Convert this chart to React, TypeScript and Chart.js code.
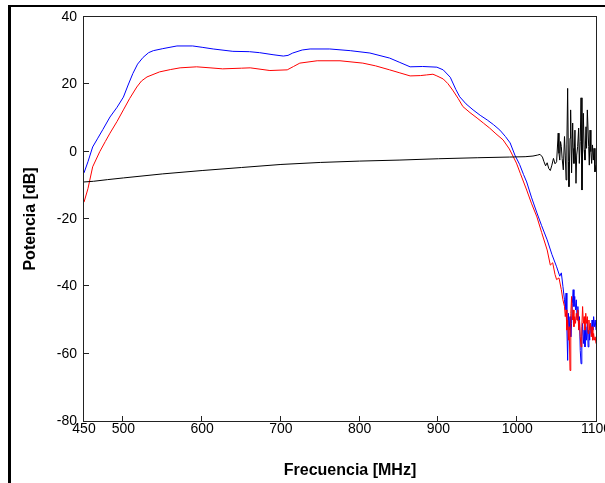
import React, { useEffect, useRef } from "react";
import { Chart, registerables } from "chart.js";

Chart.register(...registerables);

// ---- Data ----
const blueFreq = [
  450, 455, 461, 467, 474, 483, 492, 500, 506, 512, 518, 525, 532, 538, 550, 568, 588, 600, 614, 639,
  660, 673, 690, 703, 709, 715, 727, 737, 762, 788, 813, 838, 851, 864, 880, 898, 906, 915, 922, 927,
  935, 944, 953, 962, 970, 978, 985, 991, 997, 1003, 1008, 1012, 1018, 1025, 1031, 1038, 1044, 1050,
  1054, 1056, 1058, 1060, 1061, 1062, 1063, 1064, 1065, 1066, 1067, 1068, 1069, 1070, 1071, 1072,
  1073, 1074, 1075, 1076, 1077, 1078, 1079, 1080, 1081, 1082, 1083, 1084, 1085, 1086, 1087, 1088,
  1089, 1090, 1091, 1092, 1093, 1094, 1095, 1096, 1097, 1098, 1099, 1100,
];
const blueDb = [
  -6.3, -3.0, 1.4, 3.8, 6.6, 10.3, 13.2, 16.2, 19.8, 23.2, 26.0, 28.0, 29.4, 30.0, 30.6, 31.4, 31.4, 31.0, 30.5, 29.8,
  29.7, 29.4, 28.8, 28.4, 28.6, 29.3, 30.2, 30.5, 30.5, 30.0, 29.3, 27.8, 26.5, 25.2, 25.3, 25.1, 24.3, 22.1, 18.5, 16.3,
  14.2, 12.4, 10.8, 9.4, 8.0, 6.4, 4.5, 2.6, -1.0, -3.8, -6.8, -9.0, -13.5, -18.2, -22.0, -26.2, -30.5, -34.2,
  -37.0, -36.0, -40, -44, -47, -42, -52, -62, -48, -53, -49, -55, -51, -45, -41, -46,
  -43, -47, -44, -50, -46, -52, -49, -59, -63, -55, -51, -57, -53, -58, -52, -56,
  -50, -58, -53, -56, -51, -54, -50, -53, -49, -52, -50, -53,
];

const redFreq = [
  450, 455, 461, 470, 477, 483, 492, 500, 508, 517, 523, 530, 546, 560, 572, 593, 610, 626, 650, 661,
  686, 708, 716, 724, 746, 775, 804, 820, 838, 851, 864, 877, 885, 893, 898, 906, 912, 918, 925, 931,
  940, 949, 957, 965, 973, 982, 990, 995, 999, 1004, 1012, 1018, 1025, 1031, 1038, 1042, 1045, 1048,
  1050, 1053, 1056, 1058, 1060, 1061, 1062, 1063, 1064, 1065, 1066, 1067, 1068, 1069, 1070, 1071,
  1072, 1073, 1074, 1075, 1076, 1077, 1078, 1079, 1080, 1081, 1082, 1083, 1084, 1085, 1086, 1087,
  1088, 1089, 1090, 1091, 1092, 1093, 1094, 1095, 1096, 1097, 1098, 1099, 1100,
];
const redDb = [
  -15.0, -11.0, -4.5, 0.0, 3.0, 5.5, 9.0, 12.4, 15.8, 19.2, 21.0, 22.2, 23.7, 24.4, 24.9, 25.2, 24.9, 24.6, 24.8, 24.9,
  24.1, 24.3, 25.3, 26.3, 27.0, 27.0, 26.3, 25.5, 24.3, 23.4, 22.5, 22.6, 22.8, 23.0, 22.5, 21.6, 20.2, 18.3, 15.8, 13.4,
  11.6, 10.0, 8.5, 7.0, 5.3, 3.5, 0.8, -1.5, -3.4, -6.5, -11.4, -15.3, -19.4, -24.0, -29.2, -33.7, -33.0, -36.5,
  -38.0, -37.5, -41, -44, -46, -49, -47, -53, -50, -56, -52, -65, -48, -43, -50, -47,
  -52, -49, -51, -48, -50, -47, -53, -50, -55, -58, -52, -46, -51, -49, -53, -48,
  -51, -49, -54, -50, -53, -51, -55, -52, -56, -54, -56, -55, -57,
];

const blackFreq = [
  450, 462, 480, 500, 550, 600, 650, 700, 750, 800, 850, 900, 950, 990, 1010, 1020, 1026, 1029, 1032, 1034,
  1036, 1038, 1040, 1042, 1044, 1046, 1048, 1050, 1052, 1053, 1054, 1055, 1056, 1057, 1058.5, 1060, 1061, 1062,
  1063, 1064, 1065, 1065.7, 1067, 1067.8, 1069, 1070.4, 1071, 1072, 1073.3, 1074.6, 1075.5, 1076.7, 1078,
  1078.8, 1080, 1081, 1082.2, 1083.1, 1083.9, 1085, 1086, 1087.3, 1088, 1089, 1090.7, 1091.5, 1092.4, 1093.5,
  1094.5, 1095.5, 1096.6, 1097.5, 1098.7, 1100,
];
const blackDb = [
  -9.0, -8.8, -8.3, -7.8, -6.6, -5.6, -4.7, -3.8, -3.2, -2.8, -2.5, -2.1, -1.8, -1.6, -1.5, -1.3, -1.0, -0.8, -1.6, -3.0,
  -4.2, -3.3, -5.0, -5.6, -4.0, -2.0, -3.6, -3.0, 5.5, -0.5, -2.5, 3.0, 1.5, -2.0, -5.4, 4.5, -1.0, -8.4,
  2.0, 18.8, -3.0, -10.4, 4.0, 12.4, -6.3, 8.5, 1.0, -3.5, 6.4, -9.4, -1.0, 1.5, 7.0,
  -3.5, 3.0, 16.0, -11.4, 2.0, 11.4, 0.5, -2.5, 7.4, 1.0, 12.4, 1.5, -4.0, 6.4, 0.0,
  -3.5, 2.0, -2.5, 1.0, -6.0, -4.0,
];

const xTicks = [450, 500, 600, 700, 800, 900, 1000, 1100];
const yTicks = [-80, -60, -40, -20, 0, 20, 40];

const xTitle = "Frecuencia [MHz]";
const yTitle = "Potencia [dB]";

const FONT = "Arial, 'Liberation Sans', sans-serif";

const toPoints = (xs: number[], ys: number[]) => xs.map((x, i) => ({ x, y: ys[i] }));

const framePlugin = {
  id: "framePlugin",
  beforeDraw(chart: any) {
    const ctx = chart.ctx;
    ctx.save();
    ctx.fillStyle = "#000";
    ctx.fillRect(8, 5, 3, chart.height - 5);
    ctx.fillRect(8, 5, chart.width - 8, 2);
    ctx.restore();
  },
  afterDraw(chart: any) {
    const { ctx, chartArea: a, scales } = chart;
    ctx.save();
    ctx.strokeStyle = "#222";
    ctx.lineWidth = 1;
    ctx.strokeRect(Math.round(a.left) - 0.5, Math.round(a.top) - 0.5, Math.round(a.width) + 1, Math.round(a.height) + 1);
    ctx.beginPath();
    const tl = 5;
    xTicks.forEach((v) => {
      if (v === scales.x.min || v === scales.x.max) return;
      const px = Math.round(scales.x.getPixelForValue(v)) - 0.5;
      ctx.moveTo(px, a.bottom);
      ctx.lineTo(px, a.bottom - tl);
    });
    yTicks.forEach((v) => {
      if (v === scales.y.min || v === scales.y.max) return;
      const py = Math.round(scales.y.getPixelForValue(v)) - 0.5;
      ctx.moveTo(a.left, py);
      ctx.lineTo(a.left + tl, py);
    });
    ctx.stroke();
    // x axis title, centred slightly right of the plot centre as in the reference
    ctx.fillStyle = "#000";
    ctx.font = `bold 16px ${FONT}`;
    ctx.textAlign = "center";
    ctx.textBaseline = "middle";
    ctx.fillText(xTitle, (a.left + a.right) / 2 + 10, 471);
    ctx.restore();
  },
};

export default function App() {
  const ref = useRef<HTMLCanvasElement | null>(null);

  useEffect(() => {
    if (!ref.current) return;
    const chart = new Chart(ref.current, {
      type: "line",
      data: {
        datasets: [
          {
            label: "ruido",
            data: toPoints(blackFreq, blackDb),
            borderColor: "#000000",
            borderWidth: 1,
            pointRadius: 0,
            tension: 0,
          },
          {
            label: "rojo",
            data: toPoints(redFreq, redDb),
            borderColor: "#ff0000",
            borderWidth: 1,
            pointRadius: 0,
            tension: 0,
          },
          {
            label: "azul",
            data: toPoints(blueFreq, blueDb),
            borderColor: "#0000ff",
            borderWidth: 1,
            pointRadius: 0,
            tension: 0,
          },
        ],
      },
      options: {
        responsive: false,
        animation: false,
        devicePixelRatio: 1,
        layout: { padding: { left: 0, top: 17, right: 9, bottom: 0 } },
        plugins: {
          legend: { display: false },
          tooltip: { enabled: false },
        },
        scales: {
          x: {
            type: "linear",
            min: 450,
            max: 1100,
            grid: { display: false, drawTicks: false },
            border: { display: false },
            afterBuildTicks: (scale: any) => {
              scale.ticks = xTicks.map((v) => ({ value: v }));
            },
            afterFit: (scale: any) => {
              scale.height = 62;
              scale.paddingLeft = 0;
              scale.paddingRight = 0;
            },
            ticks: {
              autoSkip: false,
              maxRotation: 0,
              padding: 0,
              color: "#000",
              font: { family: FONT, size: 14 },
              callback: (v: any) => String(v),
            },
            title: { display: false, text: xTitle },
          },
          y: {
            type: "linear",
            min: -80,
            max: 40,
            grid: { display: false, drawTicks: false },
            border: { display: false },
            afterBuildTicks: (scale: any) => {
              scale.ticks = yTicks.map((v) => ({ value: v }));
            },
            afterFit: (scale: any) => {
              scale.width = 84;
              scale.paddingTop = 0;
              scale.paddingBottom = 0;
            },
            ticks: {
              padding: 7,
              color: "#000",
              font: { family: FONT, size: 14 },
              callback: (v: any) => String(v),
            },
            title: {
              display: true,
              text: yTitle,
              color: "#000",
              font: { family: FONT, size: 16, weight: "bold" },
              padding: { top: 21, bottom: 0 },
            },
          },
        },
      },
      plugins: [framePlugin],
    });
    return () => chart.destroy();
  }, []);

  return (
    <div style={{ position: "absolute", left: 0, top: 0, width: 605, height: 483, background: "#fff" }}>
      <canvas ref={ref} width={605} height={483} style={{ width: 605, height: 483, display: "block" }} />
    </div>
  );
}
